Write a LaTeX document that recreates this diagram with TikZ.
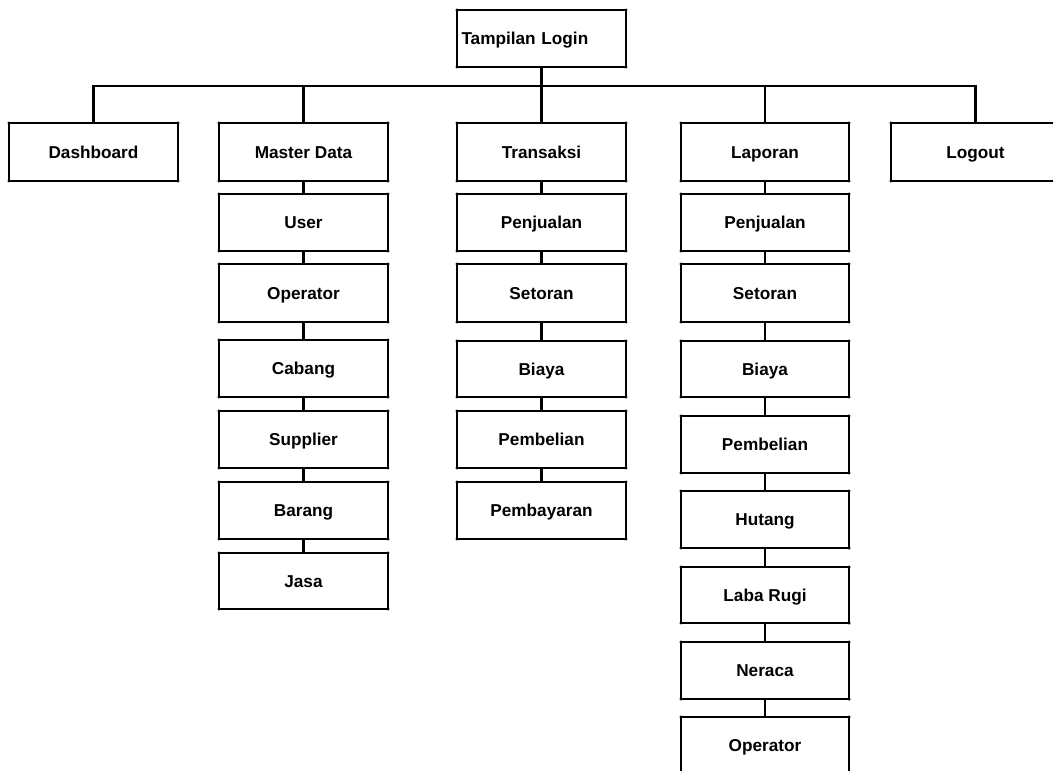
\documentclass[tikz,border=0pt]{standalone}
\usepackage{fontspec}
\setmainfont{Liberation Sans}
\begin{document}
\begin{tikzpicture}[x=0.75pt,y=-0.75pt,
  box/.style 2 args={draw, line width=1.6pt, inner sep=0pt, outer sep=0pt,
    minimum width=#1*0.75pt, minimum height=#2*0.75pt,
    text height=9.2pt, text depth=0pt,
    font=\bfseries\fontsize{12.9}{15}\selectfont},
  link/.style={line width=1.6pt}]
\clip (0,0) rectangle (1053,771);
\fill[white] (0,0) rectangle (1053,771);

% root
\node[box={169}{57}, text width=120pt, align=left] (login) at (541.5,38.5) {Tampilan Login};

% main menu
\node[box={169}{58}] (dash)   at (93.5,152)  {Dashboard};
\node[box={169}{58}] (master) at (303.5,152) {Master Data};
\node[box={169}{58}] (trans)  at (541.5,152) {Transaksi};
\node[box={168}{58}] (lap)    at (765,152)   {Laporan};
\node[box={169}{58}] (logout) at (975.5,152) {Logout};

% master data
\node[box={169}{57}] (m1) at (303.5,222.5) {User};
\node[box={169}{58}] (m2) at (303.5,293)   {Operator};
\node[box={169}{57}] (m3) at (303.5,368.5) {Cabang};
\node[box={169}{57}] (m4) at (303.5,439.5) {Supplier};
\node[box={169}{57}] (m5) at (303.5,510.5) {Barang};
\node[box={169}{56}] (m6) at (303.5,581)   {Jasa};

% transaksi
\node[box={169}{57}] (t1) at (541.5,222.5) {Penjualan};
\node[box={169}{58}] (t2) at (541.5,293)   {Setoran};
\node[box={169}{56}] (t3) at (541.5,369)   {Biaya};
\node[box={169}{57}] (t4) at (541.5,439.5) {Pembelian};
\node[box={169}{57}] (t5) at (541.5,510.5) {Pembayaran};

% laporan
\node[box={168}{57}] (l1) at (765,222.5) {Penjualan};
\node[box={168}{58}] (l2) at (765,293)   {Setoran};
\node[box={168}{56}] (l3) at (765,369)   {Biaya};
\node[box={168}{57}] (l4) at (765,444.5) {Pembelian};
\node[box={168}{57}] (l5) at (765,519.5) {Hutang};
\node[box={168}{56}] (l6) at (765,595)   {Laba Rugi};
\node[box={168}{57}] (l7) at (765,670.5) {Neraca};
\node[box={168}{57}] (l8) at (765,745.5) {Operator};

% bus
\coordinate (bus) at (541.5,86);
\draw[link] (login.south) -- (login.south |- bus);
\draw[link] (dash.north) -- (dash.north |- bus) -- (logout.north |- bus) -- (logout.north);
\foreach \n in {master,trans,lap}
  \draw[link] (\n.north) -- (\n.north |- bus);

% chains
\foreach \a/\b in {master/m1,m1/m2,m2/m3,m3/m4,m4/m5,m5/m6,
                   trans/t1,t1/t2,t2/t3,t3/t4,t4/t5,
                   lap/l1,l1/l2,l2/l3,l3/l4,l4/l5,l5/l6,l6/l7,l7/l8}
  \draw[link] (\a.south) -- (\b.north);

% corner dots
\foreach \n in {login,dash,master,trans,lap,logout,m1,m2,m3,m4,m5,m6,
                t1,t2,t3,t4,t5,l1,l2,l3,l4,l5,l6,l7,l8}
  \foreach \c in {north west,north east,south west,south east}
    \fill (\n.\c) circle (1.3pt);
\end{tikzpicture}
\end{document}
